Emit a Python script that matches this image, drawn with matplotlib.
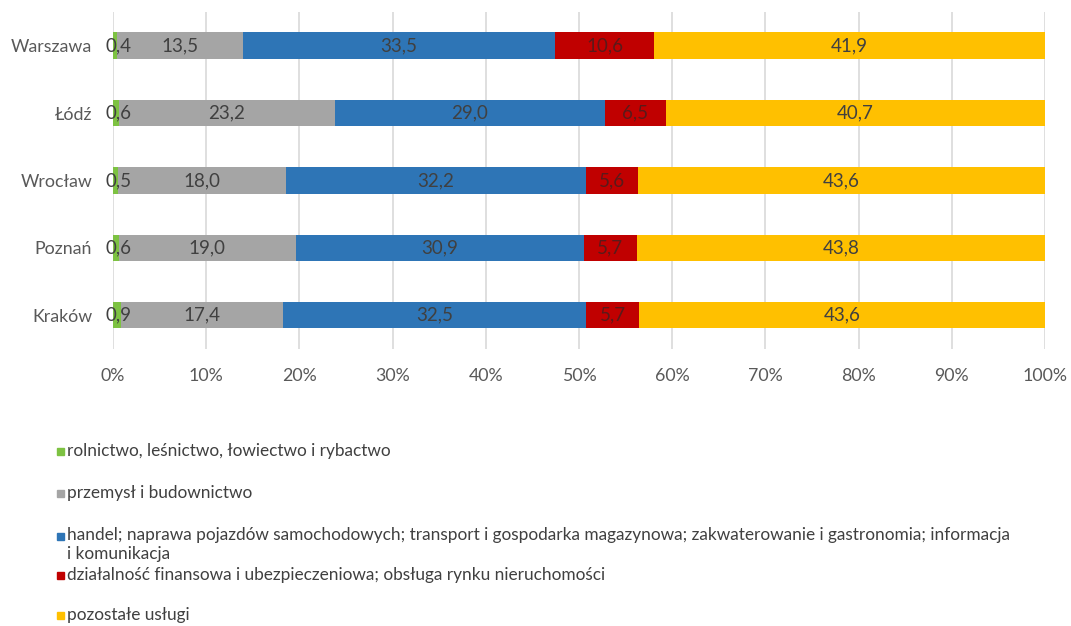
import matplotlib
matplotlib.use("Agg")
import matplotlib.pyplot as plt
from matplotlib.patches import Rectangle
import numpy as np

cities = ["Warszawa", "Łódź", "Wrocław", "Poznań", "Kraków"]
rolnictwo = [0.4, 0.6, 0.5, 0.6, 0.9]
przemysl = [13.5, 23.2, 18.0, 19.0, 17.4]
handel = [33.5, 29.0, 32.2, 30.9, 32.5]
finanse = [10.6, 6.5, 5.6, 5.7, 5.7]
pozostale = [41.9, 40.7, 43.6, 43.8, 43.6]

series_names = [
    "rolnictwo, leśnictwo, łowiectwo i rybactwo",
    "przemysł i budownictwo",
    "handel; naprawa pojazdów samochodowych; transport i gospodarka magazynowa; zakwaterowanie i gastronomia; informacja\ni komunikacja",
    "działalność finansowa i ubezpieczeniowa; obsługa rynku nieruchomości",
    "pozostałe usługi",
]
colors = ["#7DC242", "#A5A5A5", "#2E75B6", "#C00000", "#FFC000"]
label_colors = ["#404040", "#404040", "#404040", "#5A1A1A", "#404040"]

plt.rcParams["font.family"] = ["Lato", "DejaVu Sans"]

fig = plt.figure(figsize=(10.71, 6.26), dpi=100)
ax = fig.add_axes([0.1055, 0.4425, 0.8702, 0.5385])

data = np.array([rolnictwo, przemysl, handel, finanse, pozostale])
totals = data.sum(axis=0)
shares = data / totals * 100

y = np.arange(len(cities))
left = np.zeros(len(cities))
for i in range(len(series_names)):
    ax.barh(y, shares[i], left=left, height=0.39, color=colors[i], zorder=3)
    for j in range(len(cities)):
        xc = left[j] + shares[i][j] / 2
        if i == 0:
            xc = left[j] + 0.6
        ax.text(xc, y[j], f"{data[i][j]:.1f}".replace(".", ","),
                ha="center", va="center", fontsize=13.5,
                color=label_colors[i], zorder=4)
    left += shares[i]

ax.set_xlim(0, 100)
ax.set_ylim(len(cities) - 0.5, -0.5)
ax.set_xticks(np.arange(0, 101, 10))
ax.set_xticklabels([f"{v}%" for v in range(0, 101, 10)])
ax.set_yticks(y)
ax.set_yticklabels(cities)
ax.tick_params(axis="both", length=0, labelsize=12.8, labelcolor="#595959")
ax.tick_params(axis="x", pad=14)
ax.tick_params(axis="y", pad=15)
ax.grid(axis="x", color="#D9D9D9", linewidth=1.2, zorder=0)
for s in ax.spines.values():
    s.set_visible(False)

# legend drawn as a column of entries below the chart
legend_y_px = [451, 493, 536, 575, 615]
W, H = 1071, 626
for name, c, ypx in zip(series_names, colors, legend_y_px):
    yf = 1 - ypx / H
    fig.patches.append(Rectangle((57 / W, yf - 3.5 / H), 7 / W, 7 / H,
                                 transform=fig.transFigure, color=c))
    if "\n" in name:
        fig.text(67 / W, 1 - (ypx - 9) / H, name, ha="left", va="top",
                 fontsize=12.4, color="#404040", linespacing=1.2)
    else:
        fig.text(67 / W, yf, name, ha="left", va="center",
                 fontsize=12.4, color="#404040")

fig.savefig("out.png", dpi=100, facecolor="white")
